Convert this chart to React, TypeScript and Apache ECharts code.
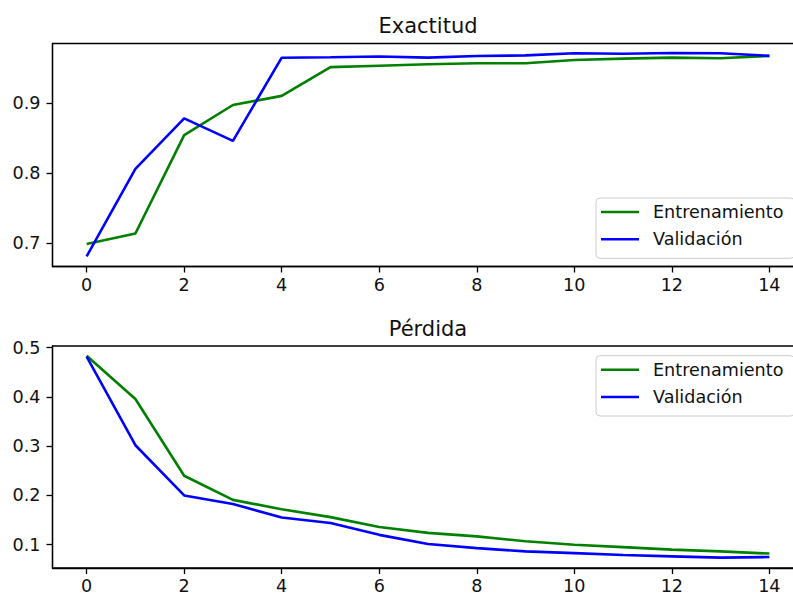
import React, { useEffect, useRef } from "react";
import * as echarts from "echarts";

const epochs = [0, 1, 2, 3, 4, 5, 6, 7, 8, 9, 10, 11, 12, 13, 14];
const accTrain = [0.699, 0.714, 0.854, 0.897, 0.910, 0.951, 0.953, 0.955, 0.9565, 0.9565, 0.961, 0.963, 0.9645, 0.9636, 0.967];
const accVal = [0.6815, 0.806, 0.878, 0.846, 0.9644, 0.965, 0.966, 0.9645, 0.9667, 0.9677, 0.9707, 0.970, 0.971, 0.9707, 0.967];
const lossTrain = [0.4838, 0.396, 0.240, 0.191, 0.172, 0.156, 0.136, 0.124, 0.117, 0.107, 0.100, 0.095, 0.090, 0.0865, 0.082];
const lossVal = [0.482, 0.302, 0.200, 0.1826, 0.1554, 0.144, 0.120, 0.1015, 0.093, 0.0865, 0.083, 0.079, 0.0763, 0.0737, 0.075];
const xTicks = [0, 2, 4, 6, 8, 10, 12, 14];
const accTicks = [0.7, 0.8, 0.9];
const lossTicks = [0.1, 0.2, 0.3, 0.4, 0.5];
const seriesNames = ["Entrenamiento", "Validación"];
const titles = ["Exactitud", "Pérdida"];

const FONT = "DejaVu Sans";
const TICK_FS = 17.6;

export default function App() {
  const ref = useRef<HTMLDivElement>(null);
  useEffect(() => {
    if (!ref.current) return;
    const chart = echarts.init(ref.current, undefined, { renderer: "svg" });
    const grids = [
      { left: 52.5, width: 751, top: 43.5, height: 223 },
      { left: 52.5, width: 751, top: 346, height: 222 },
    ];
    const xAxisBase = (gridIndex: number) => ({
      type: "value",
      gridIndex,
      min: -0.7,
      max: 14.7,
      axisLine: { show: true, onZero: false, lineStyle: { color: "#000", width: 1.3 } },
      axisTick: { show: true, length: 6, lineStyle: { color: "#000", width: 1.3 }, customValues: xTicks },
      axisLabel: { show: true, margin: 9, color: "#111", fontFamily: FONT, fontSize: TICK_FS, customValues: xTicks, formatter: (v: number) => String(Math.round(v)) },
      splitLine: { show: false },
    });
    const yAxisBase = (gridIndex: number, min: number, max: number, ticks: number[]) => ({
      type: "value",
      gridIndex,
      min,
      max,
      axisLine: { show: true, onZero: false, lineStyle: { color: "#000", width: 1.3 } },
      axisTick: { show: true, length: 6, lineStyle: { color: "#000", width: 1.3 }, customValues: ticks },
      axisLabel: { show: true, margin: 12, color: "#111", fontFamily: FONT, fontSize: TICK_FS, customValues: ticks, formatter: (v: number) => v.toFixed(1) },
      splitLine: { show: false },
    });
    const lineSeries = (name: string, data: number[], color: string, idx: number) => ({
      type: "line",
      name,
      xAxisIndex: idx,
      yAxisIndex: idx,
      data: epochs.map((e, i) => [e, data[i]]),
      symbol: "none",
      lineStyle: { color, width: 2.6 },
      itemStyle: { color },
      emphasis: { disabled: true },
    });
    const legendBase = (top: number) => ({
      orient: "vertical",
      left: 596,
      top,
      data: seriesNames,
      icon: "rect",
      itemWidth: 38,
      itemHeight: 2.6,
      itemGap: 7.3,
      padding: [4, 11, 9, 5],
      backgroundColor: "rgba(255,255,255,0.8)",
      borderColor: "#cccccc",
      borderWidth: 1,
      borderRadius: 4,
      textStyle: { fontFamily: FONT, fontSize: TICK_FS, color: "#111", lineHeight: 20, padding: [0, 0, 0, 9] },
      selectedMode: false,
    });
    chart.setOption({
      animation: false,
      backgroundColor: "#fff",
      grid: grids.map((g) => ({ ...g, outerBoundsMode: "none", containLabel: false, show: true, borderColor: "#000", borderWidth: 1.3, backgroundColor: "transparent" })),
      xAxis: [xAxisBase(0), xAxisBase(1)],
      yAxis: [yAxisBase(0, 0.667, 0.9846, accTicks), yAxisBase(1, 0.0527, 0.5035, lossTicks)],
      legend: [legendBase(198), legendBase(355.7)],
      series: [
        lineSeries(seriesNames[0], accTrain, "#008000", 0),
        lineSeries(seriesNames[1], accVal, "#0000ff", 0),
        lineSeries(seriesNames[0], lossTrain, "#008000", 1),
        lineSeries(seriesNames[1], lossVal, "#0000ff", 1),
      ],
      graphic: [
        { type: "text", x: 428, y: 36, style: { text: titles[0], fontFamily: FONT, fontSize: 21, fill: "#111", textAlign: "center", textVerticalAlign: "bottom" } },
        { type: "text", x: 428, y: 339, style: { text: titles[1], fontFamily: FONT, fontSize: 21, fill: "#111", textAlign: "center", textVerticalAlign: "bottom" } },
      ],
    });
    return () => chart.dispose();
  }, []);
  return <div ref={ref} style={{ position: "fixed", left: 0, top: 0, width: 793, height: 598 }} />;
}
